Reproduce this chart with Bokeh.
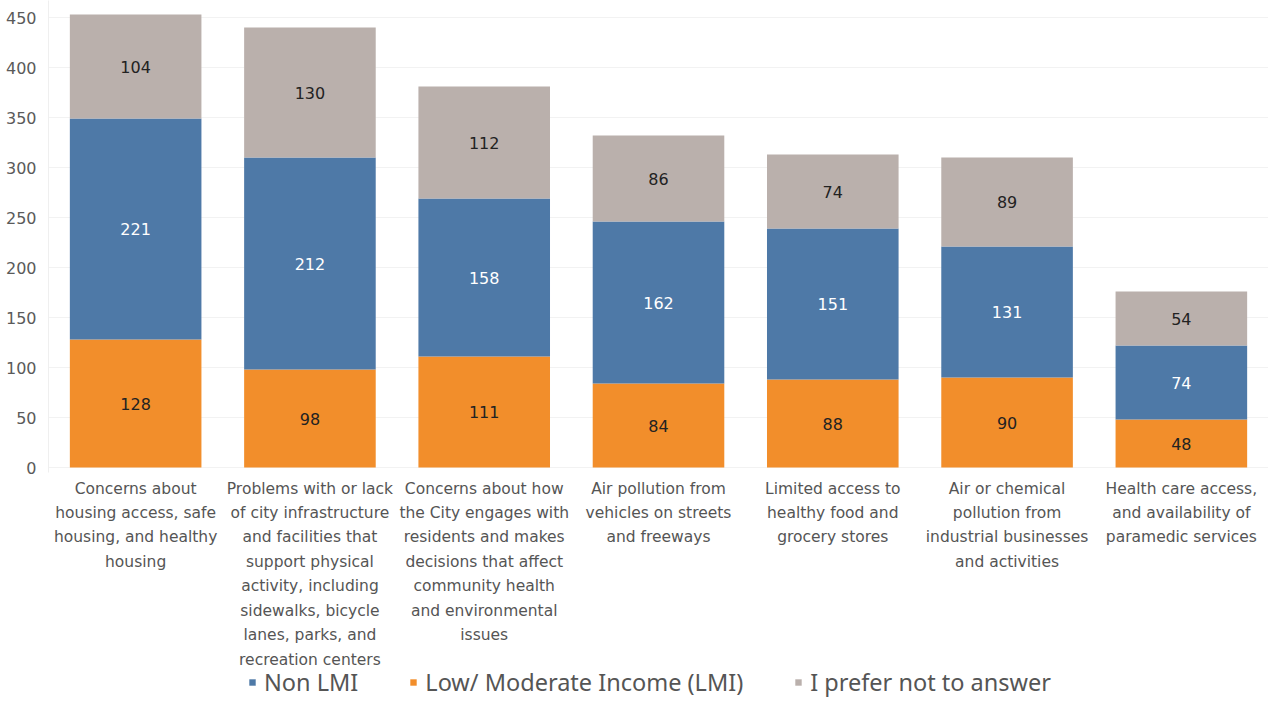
from bokeh.plotting import figure
from bokeh.models import ColumnDataSource, Legend, LegendItem, FactorRange
from bokeh.core.properties import value
from bokeh.embed import file_html
from bokeh.resources import INLINE

categories = [
    "Concerns about\nhousing access, safe\nhousing, and healthy\nhousing",
    "Problems with or lack\nof city infrastructure\nand facilities that\nsupport physical\nactivity, including\nsidewalks, bicycle\nlanes, parks, and\nrecreation centers",
    "Concerns about how\nthe City engages with\nresidents and makes\ndecisions that affect\ncommunity health\nand environmental\nissues",
    "Air pollution from\nvehicles on streets\nand freeways",
    "Limited access to\nhealthy food and\ngrocery stores",
    "Air or chemical\npollution from\nindustrial businesses\nand activities",
    "Health care access,\nand availability of\nparamedic services",
]
lmi = [128, 98, 111, 84, 88, 90, 48]
non_lmi = [221, 212, 158, 162, 151, 131, 74]
prefer_not = [104, 130, 112, 86, 74, 89, 54]
series_names = ["Non LMI", "Low/ Moderate Income (LMI)", "I prefer not to answer"]
y_ticks = [0, 50, 100, 150, 200, 250, 300, 350, 400, 450]

C_LMI = "#F28E2B"
C_NON = "#4E79A7"
C_PREF = "#BAB0AC"

Y_TOP = 467
FIG_H = 698
FIG_W = 1268
LABEL_Y = -12  # category labels start just below the baseline

src = ColumnDataSource(dict(
    cat=categories,
    lmi=lmi, non=non_lmi, pref=prefer_not,
    lmi_mid=[a / 2 for a in lmi],
    non_mid=[a + b / 2 for a, b in zip(lmi, non_lmi)],
    pref_mid=[a + b + c / 2 for a, b, c in zip(lmi, non_lmi, prefer_not)],
    lmi_lbl=[str(v) for v in lmi],
    non_lbl=[str(v) for v in non_lmi],
    pref_lbl=[str(v) for v in prefer_not],
    lab_y=[LABEL_Y] * len(categories),
))

p = figure(x_range=FactorRange(*categories), y_range=(Y_TOP - FIG_H, Y_TOP),
           width=FIG_W, height=FIG_H, output_backend="svg", toolbar_location=None,
           min_border_left=48, min_border_right=0, min_border_top=0, min_border_bottom=0)

rs = p.vbar_stack(["lmi", "non", "pref"], x="cat", width=0.755,
                  color=[C_LMI, C_NON, C_PREF], line_color=None, source=src)

font = value("DejaVu Sans")
for ycol, tcol, col in [("lmi_mid", "lmi_lbl", "#222222"),
                        ("non_mid", "non_lbl", "#ffffff"),
                        ("pref_mid", "pref_lbl", "#222222")]:
    p.text(x="cat", y=ycol, text=tcol, source=src, text_align="center",
           text_baseline="middle", text_font=font, text_font_size="16px", text_color=col)

# category labels below the bars
p.text(x="cat", y="lab_y", text="cat", source=src, text_align="center",
       text_baseline="top", text_font=font, text_font_size="15.5px",
       text_color="#555555", text_line_height=1.36)

p.outline_line_color = None
p.xgrid.grid_line_color = None
p.ygrid.grid_line_color = "#f2f2f2"
p.ygrid.ticker = y_ticks

p.xaxis.visible = False

p.yaxis.ticker = y_ticks
p.yaxis.bounds = (-5, Y_TOP)
p.yaxis.axis_line_color = "#efefef"
p.yaxis.major_tick_line_color = None
p.yaxis.minor_tick_line_color = None
p.yaxis.major_label_text_font = "DejaVu Sans"
p.yaxis.major_label_text_font_size = "16px"
p.yaxis.major_label_text_color = "#5a5a5a"
p.yaxis.major_label_standoff = 6

legend = Legend(items=[
    LegendItem(label=series_names[0], renderers=[rs[1]]),
    LegendItem(label=series_names[1], renderers=[rs[0]]),
    LegendItem(label=series_names[2], renderers=[rs[2]]),
], orientation="horizontal", location=(200, 0),
    glyph_width=8, glyph_height=8, label_standoff=8, spacing=51,
    label_text_font="Noto Sans", label_text_font_size="23.5px",
    label_text_color="#555555", border_line_color=None,
    background_fill_alpha=0, padding=0, margin=0)
p.add_layout(legend, "center")

open("out.html", "w").write(file_html(p, INLINE))
